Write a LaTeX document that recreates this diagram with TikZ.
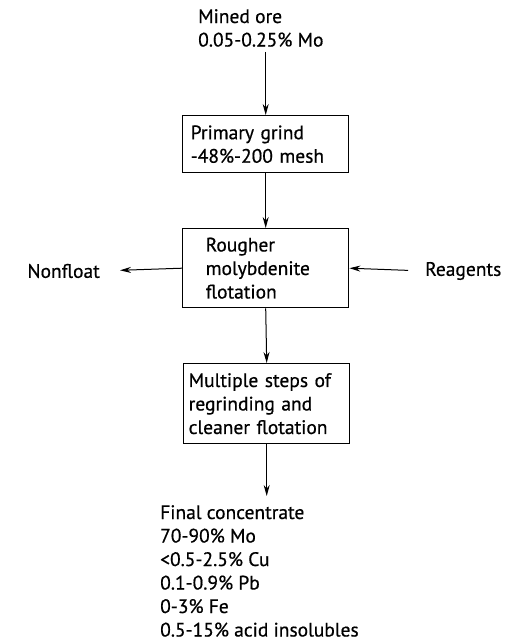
\documentclass[tikz,border=0pt]{standalone}
\usepackage{fontspec}
\setmainfont{PT Sans}[FakeBold=0.6]
\usetikzlibrary{arrows.meta}
\begin{document}
\begin{tikzpicture}[x=1pt,y=-1pt,
  txt/.style={inner sep=0pt, align=left, font=\fontsize{19.5}{23.5}\selectfont},
  box/.style={draw, line width=1.4pt, align=left, inner ysep=0pt, font=\fontsize{19.5}{23.5}\selectfont},
  flow/.style={line width=1pt, -{Stealth[length=11pt,width=6pt]}}]
\useasboundingbox (0,0) rectangle (509,644);
\node[txt, anchor=north west] (mined) at (198,9) {Mined ore\\0.05-0.25\% Mo};
\node[box, anchor=north west, minimum width=165pt, minimum height=57pt, text width=150pt, inner xsep=8pt] (b1) at (182,115) {Primary grind\\-48\%-200 mesh};
\node[box, anchor=north west, minimum width=166pt, minimum height=79pt, text width=120pt, inner xsep=23pt] (b2) at (182,228) {Rougher\\molybdenite\\flotation};
\node[box, anchor=north west, minimum width=166pt, minimum height=80pt, text width=156pt, inner xsep=5pt] (b3) at (183,363) {Multiple steps of\\regrinding and\\cleaner flotation};
\node[txt, anchor=east] (nf) at (100,271) {Nonfloat};
\node[txt, anchor=west] (re) at (425,271) {Reagents};
\node[txt, anchor=north west] (fc) at (160,505) {Final concentrate\\70-90\% Mo\\<0.5-2.5\% Cu\\0.1-0.9\% Pb\\0-3\% Fe\\0.5-15\% acid insolubles};
\draw[flow, shorten <=5pt] (mined.south -| b1.north) -- (b1.north);
\draw[flow] (b1.south) -- (b2.north);
\draw[flow] (b2.south) -- (b3.north);
\draw[flow, shorten >=20pt] (b2.west) -- (nf.east);
\draw[flow, shorten <=17pt] (re.west) -- (b2.east);
\draw[flow, shorten >=9pt] (b3.south) -- (b3.south |- fc.north);
\end{tikzpicture}
\end{document}
